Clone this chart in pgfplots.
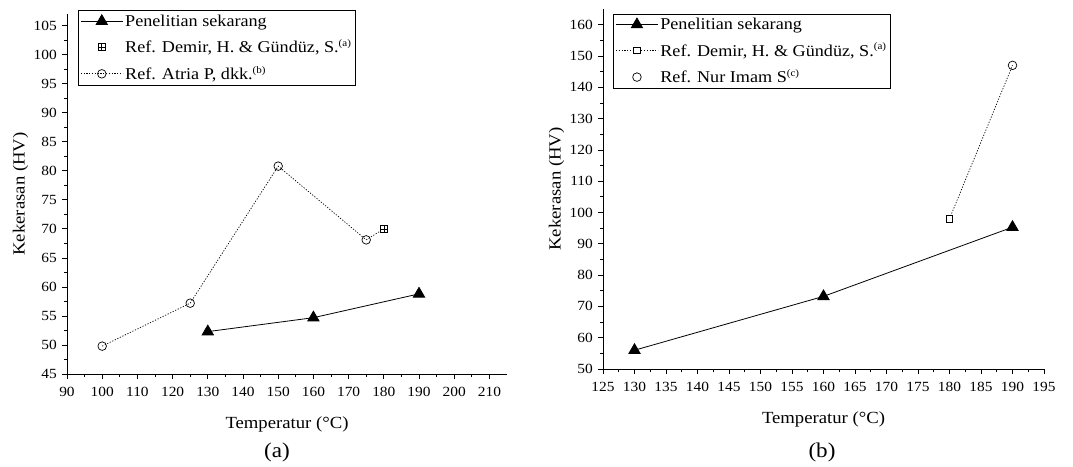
\documentclass[border=0pt]{standalone}
\usepackage{fontspec}
\setmainfont{Liberation Serif}[FakeStretch=1.1]
\usepackage{pgfplots}
\pgfplotsset{compat=1.18}

% square with a plus inside (Origin style)
\pgfdeclareplotmark{boxplus}{%
  \pgfpathrectangle{\pgfqpoint{-\pgfplotmarksize}{-\pgfplotmarksize}}{\pgfqpoint{2\pgfplotmarksize}{2\pgfplotmarksize}}%
  \pgfusepathqfillstroke
  \pgfpathmoveto{\pgfqpoint{-\pgfplotmarksize}{0pt}}\pgfpathlineto{\pgfqpoint{\pgfplotmarksize}{0pt}}%
  \pgfpathmoveto{\pgfqpoint{0pt}{-\pgfplotmarksize}}\pgfpathlineto{\pgfqpoint{0pt}{\pgfplotmarksize}}%
  \pgfusepathqstroke}

\pgfplotsset{
  hv/.style={
    scale only axis, height=360pt,
    axis x line=bottom, axis y line=left, axis line style={-, line width=0.8pt},
    tick align=outside, major tick length=5pt, minor tick length=3pt,
    tick style={black, line width=0.7pt},
    minor x tick num=1, minor y tick num=1,
    ticklabel style={font=\fontsize{14}{16}\selectfont},
    xticklabel style={inner sep=2pt, yshift=-6pt},
    yticklabel style={inner sep=2pt, xshift=-3pt},
    /pgf/number format/assume math mode=true,
    label style={font=\fontsize{17}{19}\selectfont},
    xlabel={Temperatur (°C)}, ylabel={Kekerasan (HV)},
    xlabel shift=15pt, ylabel shift=0pt,
    legend cell align=left,
    legend image code/.code={\draw[mark repeat=2,mark phase=2,##1] plot coordinates {(0pt,0pt)(21pt,0pt)(42pt,0pt)};},
    legend style={anchor=north west, draw=black, line width=0.8pt,
      font=\fontsize{16.5}{18}\selectfont, inner sep=2pt, row sep=8pt},
  },
  ours/.style={black, line width=0.8pt, mark=triangle*, mark size=6.5pt, mark options={solid}},
  dots/.style={black, line width=0.7pt, dash pattern=on 1.2pt off 1.6pt},
}

\begin{document}
\begin{tikzpicture}
\useasboundingbox (0,0) rectangle (1073pt,-466pt);

% (a)
\begin{axis}[hv, at={(67pt,-374pt)}, anchor=south west, width=440pt,
  xmin=90, xmax=215, ymin=45, ymax=107,
  xtick={90,100,...,210}, ytick={45,50,...,105},
  legend style={at={(axis description cs:0.025,1.01)}}]
\addplot[ours] coordinates {(130,52.3) (160,54.7) (190,58.8)};
\addlegendentry{Penelitian sekarang}
\addplot[dots, forget plot] coordinates {(175,68.1) (180,70.0)};
\addplot[only marks, black, line width=0.6pt, mark=boxplus, mark size=3.5pt, mark options={fill=white}] coordinates {(180,70.0)};
\addlegendentry{Ref. Demir, H. \& Gündüz, S.\textsuperscript{\fontsize{10}{10}\selectfont(a)}}
\addplot[dots, mark=o, mark size=4.3pt, mark options={solid, fill=white, line width=0.7pt}] coordinates {(100,49.8) (125,57.2) (150,80.8) (175,68.1)};
\addlegendentry{Ref. Atria P, dkk.\textsuperscript{\fontsize{10}{10}\selectfont(b)}}
\end{axis}

% (b)
\begin{axis}[hv, at={(603pt,-369pt)}, anchor=south west, width=441pt,
  xmin=125, xmax=195, ymin=50, ymax=165,
  xtick={125,130,...,195}, ytick={50,60,...,160},
  legend style={at={(axis description cs:0.023,0.987)}}]
\addplot[ours] coordinates {(130,56.0) (160,73.2) (190,95.3)};
\addlegendentry{Penelitian sekarang}
\addplot[dots, forget plot] coordinates {(180,98.0) (190,147.0)};
\addplot[dots, mark=square*, mark size=3.3pt, mark options={solid, fill=white, line width=0.7pt}] coordinates {(180,98.0)};
\addlegendentry{Ref. Demir, H. \& Gündüz, S.\textsuperscript{\fontsize{10}{10}\selectfont(a)}}
\addplot[only marks, black, mark=o, mark size=4.3pt, mark options={fill=white, line width=0.7pt}] coordinates {(190,147.0)};
\addlegendentry{Ref. Nur Imam S\textsuperscript{\fontsize{10}{10}\selectfont(c)}}
\end{axis}

\node[font=\fontsize{21}{23}\selectfont] at (277pt,-452pt) {(a)};
\node[font=\fontsize{21}{23}\selectfont] at (822pt,-452pt) {(b)};
\end{tikzpicture}
\end{document}
